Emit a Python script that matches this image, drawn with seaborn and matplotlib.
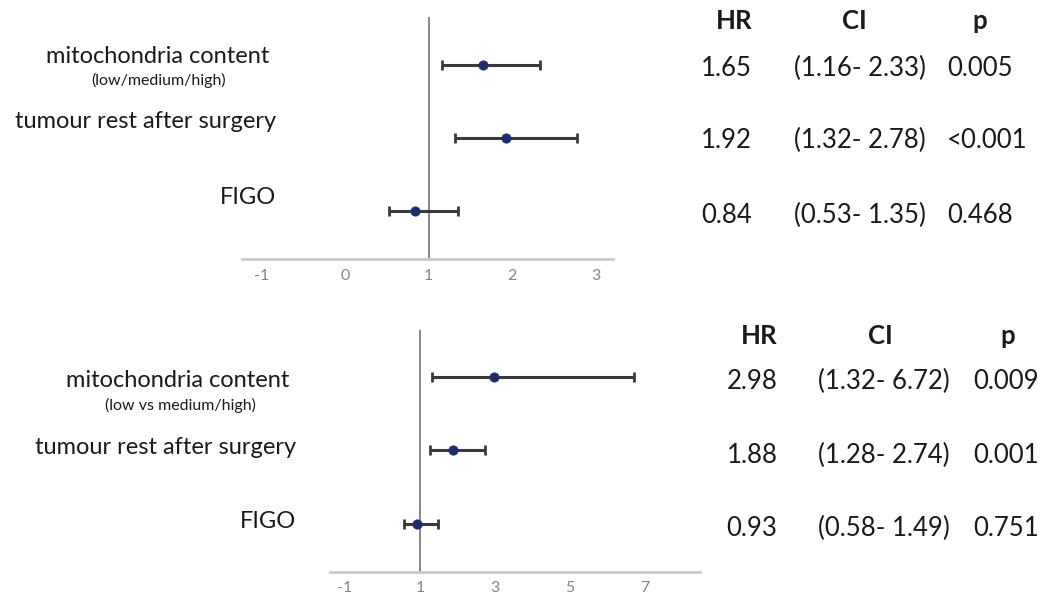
import numpy as np
import pandas as pd
import matplotlib
matplotlib.use("Agg")
import matplotlib.pyplot as plt
import seaborn as sns

# ---------------- data ----------------
variables = ["mitochondria content", "tumour rest after surgery", "FIGO"]

top_subtitle = "(low/medium/high)"
top_hr = [1.65, 1.92, 0.84]
top_lo = [1.16, 1.32, 0.53]
top_hi = [2.33, 2.78, 1.35]
top_p = ["0.005", "<0.001", "0.468"]
top_ticks = [-1, 0, 1, 2, 3]

bot_subtitle = "(low vs medium/high)"
bot_hr = [2.98, 1.88, 0.93]
bot_lo = [1.32, 1.28, 0.58]
bot_hi = [6.72, 2.74, 1.49]
bot_p = ["0.009", "0.001", "0.751"]
bot_ticks = [-1, 1, 3, 5, 7]

headers = ["HR", "CI", "p"]

# ---------------- style ----------------
sns.set_style("white")
plt.rcParams["font.family"] = ["Lato", "DejaVu Sans"]
plt.rcParams["axes.unicode_minus"] = False

W, H = 1041, 601
fig = plt.figure(figsize=(W / 100, H / 100), dpi=100)

MARKER = "#1f2d6b"
BAR = "#3a3a3a"
VLINE = "#7d7d7d"
AXIS = "#c9c9c9"
TICK = "#858585"
TXT = "#1a1a1a"


def px_axes(left, top, right, bottom):
    return fig.add_axes([left / W, 1 - bottom / H, (right - left) / W, (bottom - top) / H])


def ptext(x, y, s, **kw):
    kw.setdefault("color", TXT)
    fig.text(x / W, 1 - y / H, s, **kw)


def panel(ax, hr, lo, hi, ticks, xlim, ylim):
    df = pd.DataFrame({"variable": variables, "hr": hr, "lo": lo, "hi": hi})
    df["row"] = np.arange(len(df))
    ax.axvline(1, color=VLINE, lw=1.3, zorder=1)
    ax.errorbar(df["hr"], df["row"],
                xerr=[df["hr"] - df["lo"], df["hi"] - df["hr"]],
                fmt="none", ecolor=BAR, elinewidth=2.2, capsize=3.5,
                capthick=2.0, zorder=2)
    sns.scatterplot(data=df, x="hr", y="row", ax=ax, color=MARKER,
                    edgecolor=MARKER, s=45, zorder=3, legend=False)
    ax.set_xlim(*xlim)
    ax.set_ylim(*ylim)
    ax.set_xticks(ticks)
    ax.set_xticklabels([str(t) for t in ticks])
    ax.set_yticks([])
    ax.set_xlabel("")
    ax.set_ylabel("")
    for s in ["top", "right", "left"]:
        ax.spines[s].set_visible(False)
    ax.spines["bottom"].set_color(AXIS)
    ax.spines["bottom"].set_linewidth(2.0)
    ax.tick_params(axis="x", length=0, pad=7, labelsize=11.5, labelcolor=TICK)
    ax.patch.set_alpha(0)


LBL = 17
SUB = 11.5
TAB = 18.5

# ---------------- top panel ----------------
ax1 = px_axes(241.7, 16.7, 613.3, 259.3)
panel(ax1, top_hr, top_lo, top_hi, top_ticks, (-1.238, 3.21), (2.66, -0.66))

ptext(158, 63, variables[0], ha="center", va="baseline", fontsize=LBL)
ptext(159, 85, top_subtitle, ha="center", va="baseline", fontsize=SUB)
ptext(276, 128, variables[1], ha="right", va="baseline", fontsize=LBL)
ptext(276, 204, variables[2], ha="right", va="baseline", fontsize=LBL)

ptext(752, 29.3, headers[0], ha="right", va="baseline", fontsize=TAB, fontweight="bold")
ptext(854, 29.3, headers[1], ha="center", va="baseline", fontsize=TAB, fontweight="bold")
ptext(980, 29.3, headers[2], ha="center", va="baseline", fontsize=TAB, fontweight="bold")
for y, h, l, u, p in zip([76, 148.3, 222.7], top_hr, top_lo, top_hi, top_p):
    ptext(752, y, f"{h:.2f}", ha="right", va="baseline", fontsize=TAB)
    ptext(860, y, f"({l:.2f}- {u:.2f})", ha="center", va="baseline", fontsize=TAB)
    ptext(947, y, p, ha="left", va="baseline", fontsize=TAB)

# ---------------- bottom panel ----------------
ax2 = px_axes(330, 330, 700, 571.7)
panel(ax2, bot_hr, bot_lo, bot_hi, bot_ticks, (-1.4, 8.467), (2.66, -0.65))

ptext(178, 387.3, variables[0], ha="center", va="baseline", fontsize=LBL)
ptext(180, 410, bot_subtitle, ha="center", va="baseline", fontsize=SUB)
ptext(296, 454, variables[1], ha="right", va="baseline", fontsize=LBL)
ptext(296, 528.3, variables[2], ha="right", va="baseline", fontsize=LBL)

ptext(777.5, 344, headers[0], ha="right", va="baseline", fontsize=TAB, fontweight="bold")
ptext(880, 344, headers[1], ha="center", va="baseline", fontsize=TAB, fontweight="bold")
ptext(1008, 344, headers[2], ha="center", va="baseline", fontsize=TAB, fontweight="bold")
for y, h, l, u, p in zip([389.3, 463.3, 536], bot_hr, bot_lo, bot_hi, bot_p):
    ptext(777.5, y, f"{h:.2f}", ha="right", va="baseline", fontsize=TAB)
    ptext(884, y, f"({l:.2f}- {u:.2f})", ha="center", va="baseline", fontsize=TAB)
    ptext(973, y, p, ha="left", va="baseline", fontsize=TAB)

fig.savefig("out.png", dpi=100, facecolor="white")
